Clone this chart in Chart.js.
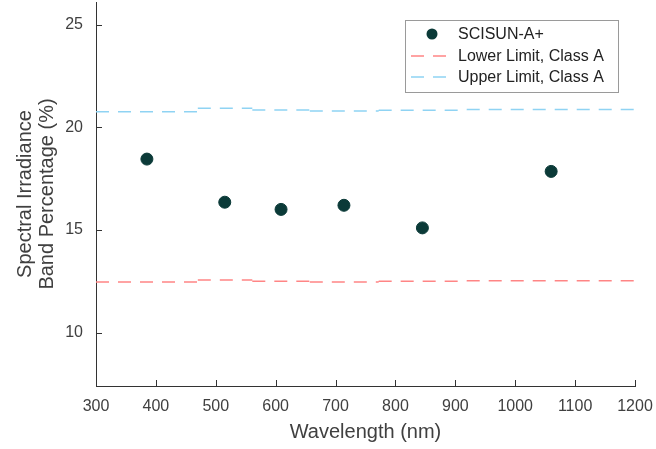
<!DOCTYPE html>
<html>
<head>
<meta charset="utf-8">
<script src="https://cdn.jsdelivr.net/npm/chart.js@4.4.1/dist/chart.umd.min.js"></script>
<style>
  html, body { margin: 0; padding: 0; background: #fff; }
  #wrap { width: 656px; height: 449px; }
</style>
</head>
<body>
<div id="wrap"><canvas id="chart" width="656" height="449"></canvas></div>
<script>
// --- Dados ---
const bandEdges = [300, 470, 561, 657, 772, 919, 1200];
const bandCenters = [385, 515, 609, 714, 845, 1060];
const measured = [18.45, 16.35, 16.0, 16.2, 15.1, 17.85];
const lowerLimit = [12.46, 12.56, 12.5, 12.47, 12.5, 12.52];
const upperLimit = [20.76, 20.93, 20.84, 20.79, 20.83, 20.86];
const xTicks = [300, 400, 500, 600, 700, 800, 900, 1000, 1100, 1200];
const yTicks = [10, 15, 20, 25];

const FONT = '"Liberation Sans", Arial, sans-serif';
const TXT = '#404040';

// monta segmentos por banda com quebras (null)
function stepSegments(vals) {
  const pts = [];
  vals.forEach((v, i) => {
    pts.push({ x: bandEdges[i], y: v });
    pts.push({ x: bandEdges[i + 1], y: v });
    if (i < vals.length - 1) pts.push({ x: bandEdges[i + 1], y: null });
  });
  return pts;
}

// ticks para dentro (estilo matlab)
const innerTicks = {
  id: 'innerTicks',
  afterDraw(chart) {
    const { ctx, chartArea, scales } = chart;
    ctx.save();
    ctx.strokeStyle = '#333';
    ctx.lineWidth = 1;
    ctx.beginPath();
    xTicks.forEach(v => {
      const px = Math.round(scales.x.getPixelForValue(v)) + 0.5;
      ctx.moveTo(px, chartArea.bottom);
      ctx.lineTo(px, chartArea.bottom - 6);
    });
    yTicks.forEach(v => {
      const py = Math.round(scales.y.getPixelForValue(v)) + 0.5;
      ctx.moveTo(chartArea.left, py);
      ctx.lineTo(chartArea.left + 6, py);
    });
    ctx.stroke();
    ctx.restore();
  }
};

// legenda desenhada manualmente dentro da area
const boxLegend = {
  id: 'boxLegend',
  afterDraw(chart) {
    const ctx = chart.ctx;
    const x0 = 405, y0 = 20, w = 213, h = 72;
    ctx.save();
    ctx.fillStyle = '#fff';
    ctx.fillRect(x0, y0, w, h);
    ctx.strokeStyle = '#9a9a9a';
    ctx.lineWidth = 1;
    ctx.strokeRect(x0 + 0.5, y0 + 0.5, w, h);
    ctx.font = '16px ' + FONT;
    ctx.textBaseline = 'middle';
    const rows = [34, 56, 77];
    chart.data.datasets.forEach((ds, i) => {
      const y = rows[i];
      if (ds.showLine === false) {
        ctx.fillStyle = ds.backgroundColor;
        ctx.beginPath();
        ctx.arc(432, y, 5.5, 0, Math.PI * 2);
        ctx.fill();
      } else {
        ctx.strokeStyle = ds.borderColor;
        ctx.lineWidth = ds.borderWidth;
        ctx.setLineDash(ds.borderDash);
        ctx.beginPath();
        ctx.moveTo(411, y);
        ctx.lineTo(450, y);
        ctx.stroke();
        ctx.setLineDash([]);
      }
      ctx.fillStyle = '#222';
      ctx.fillText(ds.label, 458, y + 1);
    });
    ctx.restore();
  }
};

new Chart(document.getElementById('chart'), {
  type: 'scatter',
  data: {
    datasets: [
      {
        label: 'SCISUN-A+',
        data: bandCenters.map((x, i) => ({ x, y: measured[i] })),
        showLine: false,
        backgroundColor: '#0b3a38',
        borderColor: '#0b3a38',
        pointRadius: 6,
        order: 0
      },
      {
        label: 'Lower Limit, Class A',
        data: stepSegments(lowerLimit),
        showLine: true,
        spanGaps: false,
        borderColor: '#ff8585',
        borderWidth: 1.5,
        borderDash: [13, 9],
        pointRadius: 0,
        order: 1
      },
      {
        label: 'Upper Limit, Class A',
        data: stepSegments(upperLimit),
        showLine: true,
        spanGaps: false,
        borderColor: '#8fd3f3',
        borderWidth: 1.5,
        borderDash: [13, 9],
        pointRadius: 0,
        order: 1
      }
    ]
  },
  options: {
    responsive: false,
    animation: false,
    layout: { autoPadding: false, padding: { top: 2, right: 21, bottom: 0, left: 0 } },
    plugins: { legend: { display: false }, tooltip: { enabled: false } },
    scales: {
      x: {
        type: 'linear',
        min: 300,
        max: 1200,
        afterBuildTicks: s => { s.ticks = xTicks.map(v => ({ value: v })); },
        afterFit: s => { s.height = 63; s.paddingLeft = 0; s.paddingRight = 0; },
        grid: { display: true, drawOnChartArea: false, drawTicks: false },
        border: { display: true, color: '#333', width: 1 },
        ticks: { color: TXT, font: { family: FONT, size: 16 }, padding: 11, maxRotation: 0, autoSkip: false, callback: v => String(v) },
        title: { display: true, text: 'Wavelength (nm)', color: TXT, font: { family: FONT, size: 20 }, padding: { top: 2, bottom: 5 } }
      },
      y: {
        type: 'linear',
        min: 7.4,
        max: 26.1,
        afterBuildTicks: s => { s.ticks = yTicks.map(v => ({ value: v })); },
        afterFit: s => { s.width = 96; s.paddingTop = 0; s.paddingBottom = 0; },
        grid: { display: true, drawOnChartArea: false, drawTicks: false },
        border: { display: true, color: '#333', width: 1 },
        ticks: { color: TXT, font: { family: FONT, size: 16 }, padding: 13, callback: v => String(v) },
        title: { display: true, text: ['Spectral Irradiance', 'Band Percentage (%)'], color: TXT, font: { family: FONT, size: 20, lineHeight: 1.1 }, padding: { top: 14, bottom: 4 } }
      }
    }
  },
  plugins: [innerTicks, boxLegend]
});
</script>
</body>
</html>
